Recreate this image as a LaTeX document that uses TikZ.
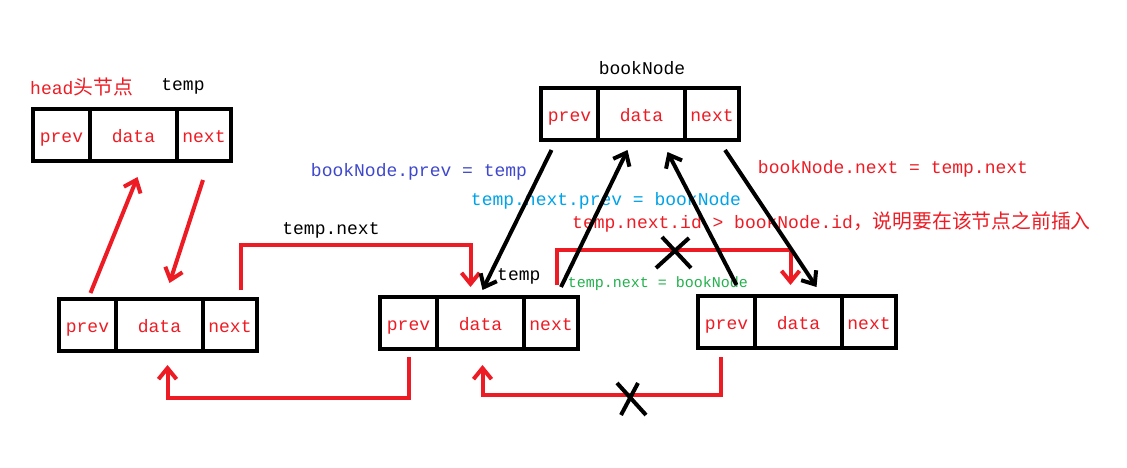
\documentclass[tikz,border=0pt]{standalone}
\usepackage{fontspec}
\setmonofont{Liberation Mono}
\newfontfamily\cjk{Noto Sans CJK SC}[Scale=1.1]
\usetikzlibrary{arrows.meta,positioning}
\definecolor{pred}{HTML}{ED1C24}
\definecolor{pblue}{HTML}{3F48CC}
\definecolor{psky}{HTML}{00A2E8}
\definecolor{pgreen}{HTML}{22B14C}

\begin{document}
\begin{tikzpicture}[x=1pt,y=-1pt,
    cell/.style={draw,line width=4pt,minimum height=52pt,inner sep=0pt,outer sep=0pt,
      text height=15pt,text depth=0pt,
      text=pred,font=\ttfamily\fontsize{18}{20}\selectfont},
    lbl/.style={inner sep=0pt,font=\ttfamily\fontsize{18}{20}\selectfont},
    redline/.style={pred,line width=4pt},
    redarrow/.style={redline,-{Straight Barb[length=11pt,width=18pt]}},
    blkarrow/.style={black,line width=4pt,-{Straight Barb[length=11pt,width=18pt]}},
    cross/.style={black,line width=4pt}]
  \useasboundingbox (0,0) rectangle (1127,468);
  % the five list nodes: prev | data | next
  \foreach \nm/\x/\y in {h/33/135, a/59/325, t/380/323, b/698/322, k/541/114}{
    \node[cell,minimum width=57pt,anchor=west] (\nm-p) at (\x,\y) {prev};
    \node[cell,minimum width=87pt,right=0pt of \nm-p] (\nm-d) {data};
    \node[cell,minimum width=54pt,right=0pt of \nm-d] (\nm-n) {next};
  }
  % labels
  \node[lbl,pred,anchor=west] (headlbl) at (30,87) {head{\cjk 头节点}};
  \node[lbl] (templbl) at (183,86) {temp};
  \node[lbl] (booklbl) at (642,68) {bookNode};
  \node[lbl,anchor=west] (temp2lbl) at (497,276) {temp};
  \node[lbl] (nextlbl) at (331,230) {temp.next};
  \node[lbl,pblue] (prevset) at (419,172) {bookNode.prev = temp};
  \node[lbl,psky] (nprevset) at (606,201) {temp.next.prev = bookNode};
  \node[lbl,pred] (nextset) at (893,169) {bookNode.next = temp.next};
  \node[lbl,pred,anchor=west] (idtest) at (572,222) {temp.next.id > bookNode.id{\cjk ，说明要在该节点之前插入}};
  \node[lbl,pgreen,font=\ttfamily\fontsize{15}{16}\selectfont] (tnset) at (658,284) {temp.next = bookNode};
  % head <-> first node
  \draw[redarrow] ([xshift=3pt,yshift=6pt]a-p.north) -- ([xshift=4pt,yshift=-16pt]h-d.south);
  \draw[redarrow] ([xshift=-1pt,yshift=-19pt]h-n.south) -- ([xshift=10pt,yshift=16pt]a-d.north);
  % next pointers
  \draw[redarrow] ([xshift=11pt,yshift=9pt]a-n.north) -- ++(0pt,45pt) -| ([xshift=-10pt,yshift=10pt]t-d.north);
  \draw[redarrow] ([xshift=6pt,yshift=12pt]t-n.north) -- ++(0pt,35pt) -| ([xshift=-8pt,yshift=11pt]b-d.north);
  % prev pointers
  \draw[redarrow] ([yshift=-8pt]t-p.south) -- ++(0pt,-41pt) -| ([xshift=8pt,yshift=-14pt]a-d.south);
  \draw[redarrow] ([xshift=-6pt,yshift=-9pt]b-p.south) -- ++(0pt,-38pt) -| ([xshift=2pt,yshift=-16pt]t-d.south);
  % bookNode links
  \draw[blkarrow] ([xshift=-18pt,yshift=-10pt]k-p.south) -- ([xshift=2pt,yshift=7pt]t-d.north);
  \draw[blkarrow] ([xshift=10pt,yshift=10pt]t-n.north) -- ([xshift=-14pt,yshift=-10pt]k-d.south);
  \draw[blkarrow] ([xshift=10pt,yshift=11pt]b-p.north) -- ([xshift=26pt,yshift=-12pt]k-d.south);
  \draw[blkarrow] ([xshift=13pt,yshift=-10pt]k-n.south) -- ([xshift=18pt,yshift=9pt]b-d.north);
  % removed links
  \draw[cross] (662,237) -- (691,268) (689,238) -- (656,268);
  \draw[cross] (617,383) -- (646,415) (638,383) -- (621,415);
\end{tikzpicture}
\end{document}
